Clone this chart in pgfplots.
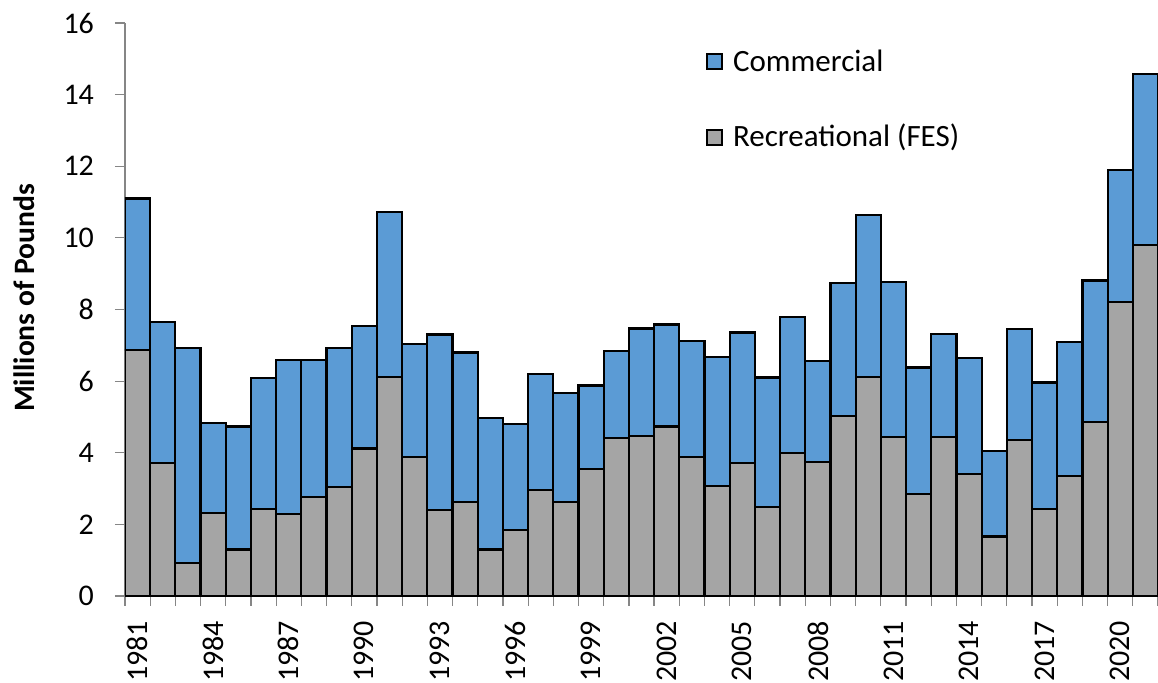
\documentclass[border=0pt]{standalone}
\usepackage{pgfplots}
\usepackage{pgfplotstable}
\pgfplotsset{compat=1.18}
\usepackage{fontspec}
\setmainfont{Carlito}
\definecolor{comm}{HTML}{5B9BD5}
\definecolor{rec}{HTML}{A5A5A5}
\definecolor{axgray}{HTML}{868686}
\pgfplotstableread{
x rec comm
0 6.87 4.23
1 3.71 3.95
2 0.93 6.00
3 2.32 2.52
4 1.30 3.43
5 2.42 3.66
6 2.28 4.31
7 2.76 3.83
8 3.05 3.88
9 4.12 3.43
10 6.12 4.60
11 3.87 3.17
12 2.40 4.90
13 2.63 4.17
14 1.30 3.66
15 1.84 2.96
16 2.96 3.23
17 2.63 3.03
18 3.54 2.34
19 4.42 2.43
20 4.47 3.00
21 4.73 2.85
22 3.87 3.25
23 3.07 3.61
24 3.71 3.65
25 2.48 3.62
26 3.99 3.81
27 3.74 2.83
28 5.02 3.73
29 6.11 4.53
30 4.43 4.33
31 2.85 3.53
32 4.43 2.89
33 3.40 3.25
34 1.66 2.38
35 4.35 3.10
36 2.44 3.52
37 3.36 3.74
38 4.86 3.95
39 8.21 3.69
40 9.81 4.76
}\datatable
\begin{document}
\begin{tikzpicture}
\useasboundingbox (-62.5pt,-43.5pt) rectangle (516.5pt,298pt);
\begin{axis}[
  at={(0,0)}, anchor=south west,
  scale only axis, width=516.5pt, height=286.5pt,
  ybar stacked, bar width=1,
  xmin=-0.5, xmax=40.5, ymin=0, ymax=16,
  axis x line*=bottom, axis y line*=left,
  x axis line style={black, line width=1.1pt, -},
  y axis line style={axgray, line width=0.6pt, -},
  ytick={0,2,...,16},
  yticklabel style={xshift=-7pt},
  xtick={-0.5,0.5,...,40.5}, xticklabels={},
  extra x ticks={0,3,...,39},
  extra x tick labels={1981,1984,1987,1990,1993,1996,1999,2002,2005,2008,2011,2014,2017,2020},
  extra x tick style={major tick length=0pt, tick label style={rotate=90, anchor=east, xshift=-9pt, yshift=0pt}},
  tick align=outside, major tick length=5pt,
  tick style={axgray, line width=0.6pt},
  /pgf/number format/assume math mode=true,
  tick label style={font=\fontsize{15}{18}\selectfont, black},
  ylabel={\textbf{Millions of Pounds}},
  ylabel style={at={(axis description cs:-0.098,0.52)}, anchor=center, rotate=0, font=\fontsize{14.8}{17}\selectfont},
  every axis plot/.append style={draw=black, line width=1.1pt},
  reverse legend,
  legend style={at={(axis description cs:0.562,0.961)}, anchor=north west, draw=none, fill=none,
    font=\fontsize{15.5}{18.5}\selectfont, row sep=21pt, inner sep=0pt},
  legend cell align=left,
  legend image code/.code={\draw[#1, draw=black, line width=1pt] (0pt,-3.75pt) rectangle (7.5pt,3.75pt); \path (10.5pt,0pt);},
]
\addplot[fill=rec] table[x=x, y=rec] {\datatable};
\addplot[fill=comm] table[x=x, y=comm] {\datatable};
\legend{Recreational (FES), Commercial}
\end{axis}
\end{tikzpicture}
\end{document}
